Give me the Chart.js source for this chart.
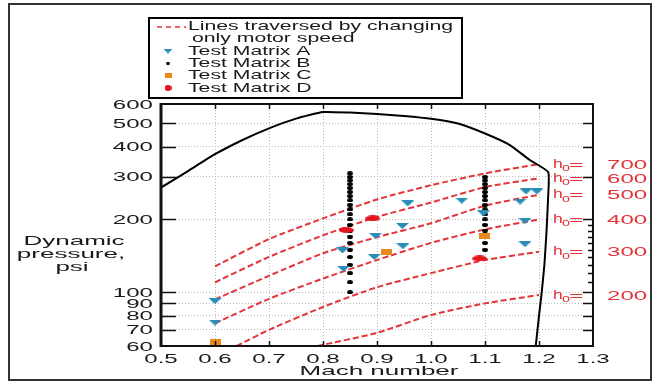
<!DOCTYPE html>
<html>
<head>
<meta charset="utf-8">
<script src="https://cdn.jsdelivr.net/npm/chart.js@4.4.0/dist/chart.umd.min.js"></script>
<style>
  body { margin: 0; background: #fff; }
  canvas { display: block; }
</style>
</head>
<body>
<canvas id="myChart" width="655" height="382"></canvas>
<script>
// axis ticks
const xTicks = [0.5, 0.6, 0.7, 0.8, 0.9, 1.0, 1.1, 1.2, 1.3];
const xTickLabels = ['0.5', '0.6', '0.7', '0.8', '0.9', '1.0', '1.1', '1.2', '1.3'];
const yTicks = [60, 70, 80, 90, 100, 200, 300, 400, 500, 600];
const yTickLabels = ['60', '70', '80', '90', '100', '200', '300', '400', '500', '600'];
const yMinorRight = [110, 120, 130, 140, 150, 160, 170, 180, 190];

// envelope (black curve)
const envMach = [0.5, 0.55, 0.6, 0.65, 0.7, 0.75, 0.8, 0.85, 0.9, 0.95, 1.0, 1.05, 1.1, 1.146, 1.183, 1.217, 1.217, 1.214, 1.21, 1.205, 1.2, 1.194];
const envQ = [271, 317, 372, 425, 476, 522, 556, 553, 546, 535, 521, 498, 453, 406, 352, 314, 250, 180, 130, 100, 80, 60];

// lines traversed by changing only motor speed (constant ho)
const machHo = [0.6, 0.7, 0.8, 0.9, 1.0, 1.1, 1.2];
const q700 = [128, 166, 202, 242, 277, 310, 339];
const q600 = [110, 140, 172, 205, 235, 272, 296];
const q500 = [93.5, 117, 145, 169, 193, 228, 253];
const q400 = [74.5, 94, 114, 136, 160, 182, 200];
const mach300 = [0.64, 0.7, 0.8, 0.9, 1.0, 1.1, 1.2];
const q300 = [60, 70, 87, 105, 120, 136, 147];
const mach200 = [0.79, 0.9, 1.0, 1.1, 1.2];
const q200 = [60, 68, 80.6, 90, 97.5];
const hoLabels = ['700', '600', '500', '400', '300', '200'];

// test matrices
const machA = [0.6, 0.6, 0.836, 0.838, 0.897, 0.895, 0.947, 0.948, 0.957, 1.057, 1.097, 1.165, 1.174, 1.174, 1.176, 1.196];
const qA = [92, 75, 149, 125, 171, 140, 188, 155, 233, 239, 212, 237, 197, 158, 261, 261];
const machB = [0.85, 0.85, 0.85, 0.85, 0.85, 0.85, 0.85, 0.85, 0.85, 0.85, 0.85, 0.85, 0.85, 0.85, 0.85, 0.85, 0.85, 0.85, 0.85, 0.85, 0.85, 0.85,
               1.1, 1.1, 1.1, 1.1, 1.1, 1.1, 1.1, 1.1, 1.1, 1.1, 1.1, 1.1, 1.1, 1.1, 1.1, 1.1];
const qB = [100, 110, 120, 130, 140, 150, 160, 170, 180, 190, 200, 210, 220, 230, 240, 250, 260, 270, 280, 290, 300, 310,
            150, 160, 170, 180, 190, 200, 210, 220, 230, 240, 250, 260, 270, 280, 290, 300];
const machC = [0.6, 0.918, 1.099];
const qC = [62.5, 147, 171];
const machD = [0.843, 0.892, 1.09];
const qD = [181, 202, 138];

const RED = '#e3343a';
const TEAL = '#2a8db6';
const ORANGE = '#e8891e';
const INK = '#1a1a1a';
const FONT = '"Liberation Sans", Arial, sans-serif';

function pts(xs, ys) {
    return xs.map((x, i) => ({ x: x, y: ys[i] }));
}

// small canvases used as point styles (the picture is horizontally stretched)
function marker(w, h, draw) {
    const c = document.createElement('canvas');
    c.width = w; c.height = h;
    draw(c.getContext('2d'), w, h);
    return c;
}
function tri(color, w, h) {
    return marker(w, h, (g) => {
        g.fillStyle = color;
        g.beginPath(); g.moveTo(0, 0); g.lineTo(w, 0); g.lineTo(w / 2, h); g.closePath(); g.fill();
    });
}
function ellipse(color, w, h) {
    return marker(w, h, (g) => {
        g.fillStyle = color;
        g.beginPath(); g.ellipse(w / 2, h / 2, w / 2, h / 2, 0, 0, Math.PI * 2); g.fill();
    });
}
function box(color, w, h) {
    return marker(w, h, (g) => { g.fillStyle = color; g.fillRect(0, 0, w, h); });
}

const markA = tri(TEAL, 13, 6);
const markB = ellipse('#000', 6, 4);
const markC = box(ORANGE, 11, 6);
const markD = ellipse('#e2161c', 15, 6);

const legA = tri(TEAL, 10, 5);
const legB = ellipse('#000', 4, 3);
const legC = box(ORANGE, 7, 5);
const legD = ellipse('#e2161c', 7, 6);

// stretched text helper
function sText(ctx, text, x, y, align, size, sx, color) {
    ctx.save();
    ctx.font = size + 'px ' + FONT;
    ctx.fillStyle = color;
    ctx.textBaseline = 'middle';
    ctx.textAlign = 'left';
    const w = ctx.measureText(text).width * sx;
    let left = x;
    if (align === 'center') left = x - w / 2;
    else if (align === 'right') left = x - w;
    ctx.translate(left, y);
    ctx.scale(sx, 1);
    ctx.fillText(text, 0, 0);
    ctx.restore();
}

const decorations = {
    id: 'decorations',
    afterDatasetsDraw(chart) {
        const ctx = chart.ctx;
        const a = chart.chartArea;
        const xs = chart.scales.x;
        const ys = chart.scales.y;
        ctx.save();

        // tick marks
        ctx.strokeStyle = '#111';
        ctx.lineWidth = 1.5;
        ctx.beginPath();
        yTicks.slice(1, -1).forEach(v => {
            const y = Math.round(ys.getPixelForValue(v)) + 0.5;
            ctx.moveTo(a.left, y); ctx.lineTo(a.left + 15, y);
            ctx.moveTo(a.right, y); ctx.lineTo(a.right - 10, y);
        });
        yMinorRight.forEach(v => {
            const y = Math.round(ys.getPixelForValue(v)) + 0.5;
            ctx.moveTo(a.right, y); ctx.lineTo(a.right - 5, y);
        });
        xTicks.slice(1, -1).forEach(v => {
            const x = Math.round(xs.getPixelForValue(v)) + 0.5;
            ctx.moveTo(x, a.top); ctx.lineTo(x, a.top + 5);
            ctx.moveTo(x, a.bottom); ctx.lineTo(x, a.bottom - 5);
        });
        ctx.stroke();

        // axis box
        ctx.lineWidth = 2;
        ctx.strokeRect(a.left, a.top, a.right - a.left, a.bottom - a.top);
        ctx.lineWidth = 3;
        ctx.beginPath(); ctx.moveTo(a.left, a.top - 1); ctx.lineTo(a.left, a.bottom + 1); ctx.stroke();

        // tick labels
        yTicks.forEach((v, i) => sText(ctx, yTickLabels[i], 153, ys.getPixelForValue(v) + 1, 'right', 13, 1.85, INK));
        xTicks.forEach((v, i) => sText(ctx, xTickLabels[i], xs.getPixelForValue(v), 359, 'center', 13, 1.85, INK));

        // axis titles
        sText(ctx, 'Mach number', 379, 371, 'center', 13, 2.0, INK);
        sText(ctx, 'Dynamic', 74, 241, 'center', 13, 2.0, INK);
        sText(ctx, 'pressure,', 71, 254, 'center', 13, 2.0, INK);
        sText(ctx, 'psi', 72, 267, 'center', 13, 2.0, INK);

        // ho labels at line ends
        const ends = [q700, q600, q500, q400, q300, q200].map(q => q[q.length - 1]);
        ends.forEach((q, i) => {
            const y = ys.getPixelForValue(q) + 1;
            sText(ctx, 'h', 553, y - 1, 'left', 13, 1.35, RED);
            sText(ctx, 'o', 562, y + 3, 'left', 11, 1.3, RED);
            sText(ctx, '=', 569, y, 'left', 13, 1.9, RED);
            sText(ctx, hoLabels[i], 607, y, 'left', 13, 1.85, RED);
        });

        // legend box
        ctx.fillStyle = '#fff';
        ctx.fillRect(149, 18, 313, 80);
        ctx.strokeStyle = '#000';
        ctx.lineWidth = 2;
        ctx.strokeRect(149, 18, 313, 80);
        ctx.strokeStyle = RED;
        ctx.lineWidth = 1.5;
        ctx.setLineDash([5, 4]);
        ctx.beginPath(); ctx.moveTo(157, 27); ctx.lineTo(186, 27); ctx.stroke();
        ctx.setLineDash([]);
        sText(ctx, 'Lines traversed by changing', 188, 26.5, 'left', 13, 1.63, INK);
        sText(ctx, 'only motor speed', 192, 38, 'left', 13, 1.63, INK);
        const legRows = [[legA, 'Test Matrix A', 51], [legB, 'Test Matrix B', 63], [legC, 'Test Matrix C', 75.5], [legD, 'Test Matrix D', 88]];
        legRows.forEach(r => {
            ctx.drawImage(r[0], 168 - r[0].width / 2, r[2] - r[0].height / 2);
            sText(ctx, r[1], 188, r[2], 'left', 13, 1.63, INK);
        });

        // outer frame
        ctx.strokeStyle = '#333';
        ctx.lineWidth = 2;
        ctx.strokeRect(9, 4, 642, 376);
        ctx.restore();
    }
};

function hoLine(xs, ys) {
    return {
        data: pts(xs, ys),
        showLine: true,
        borderColor: RED,
        borderWidth: 2,
        borderDash: [6, 3],
        pointRadius: 0,
        tension: 0.2
    };
}

new Chart(document.getElementById('myChart'), {
    type: 'scatter',
    data: {
        datasets: [
            { label: 'Test Matrix D', data: pts(machD, qD), pointStyle: markD, pointRadius: 5 },
            { label: 'Test Matrix C', data: pts(machC, qC), pointStyle: markC, pointRadius: 5 },
            { label: 'Test Matrix A', data: pts(machA, qA), pointStyle: markA, pointRadius: 5 },
            { label: 'Test Matrix B', data: pts(machB, qB), pointStyle: markB, pointRadius: 3 },
            { label: 'Envelope', data: pts(envMach, envQ), showLine: true, borderColor: '#000', borderWidth: 2, pointRadius: 0, tension: 0.15 },
            hoLine(machHo, q700),
            hoLine(machHo, q600),
            hoLine(machHo, q500),
            hoLine(machHo, q400),
            hoLine(mach300, q300),
            hoLine(mach200, q200)
        ]
    },
    options: {
        responsive: false,
        animation: false,
        events: [],
        layout: { padding: { left: 161, right: 62, top: 104, bottom: 36 } },
        plugins: { legend: { display: false }, tooltip: { enabled: false } },
        scales: {
            x: {
                type: 'linear',
                min: 0.5,
                max: 1.3,
                afterBuildTicks: (s) => { s.ticks = xTicks.map(v => ({ value: v })); },
                afterFit: (s) => { s.height = 0; },
                ticks: { display: false },
                grid: { color: '#b8b8b8', lineWidth: 1, drawTicks: false },
                border: { display: false, dash: [1, 2] }
            },
            y: {
                type: 'logarithmic',
                min: 60,
                max: 600,
                afterBuildTicks: (s) => { s.ticks = yTicks.map(v => ({ value: v })); },
                afterFit: (s) => { s.width = 0; },
                ticks: { display: false },
                grid: { color: '#b8b8b8', lineWidth: 1, drawTicks: false },
                border: { display: false, dash: [1, 2] }
            }
        }
    },
    plugins: [decorations]
});
</script>
</body>
</html>
